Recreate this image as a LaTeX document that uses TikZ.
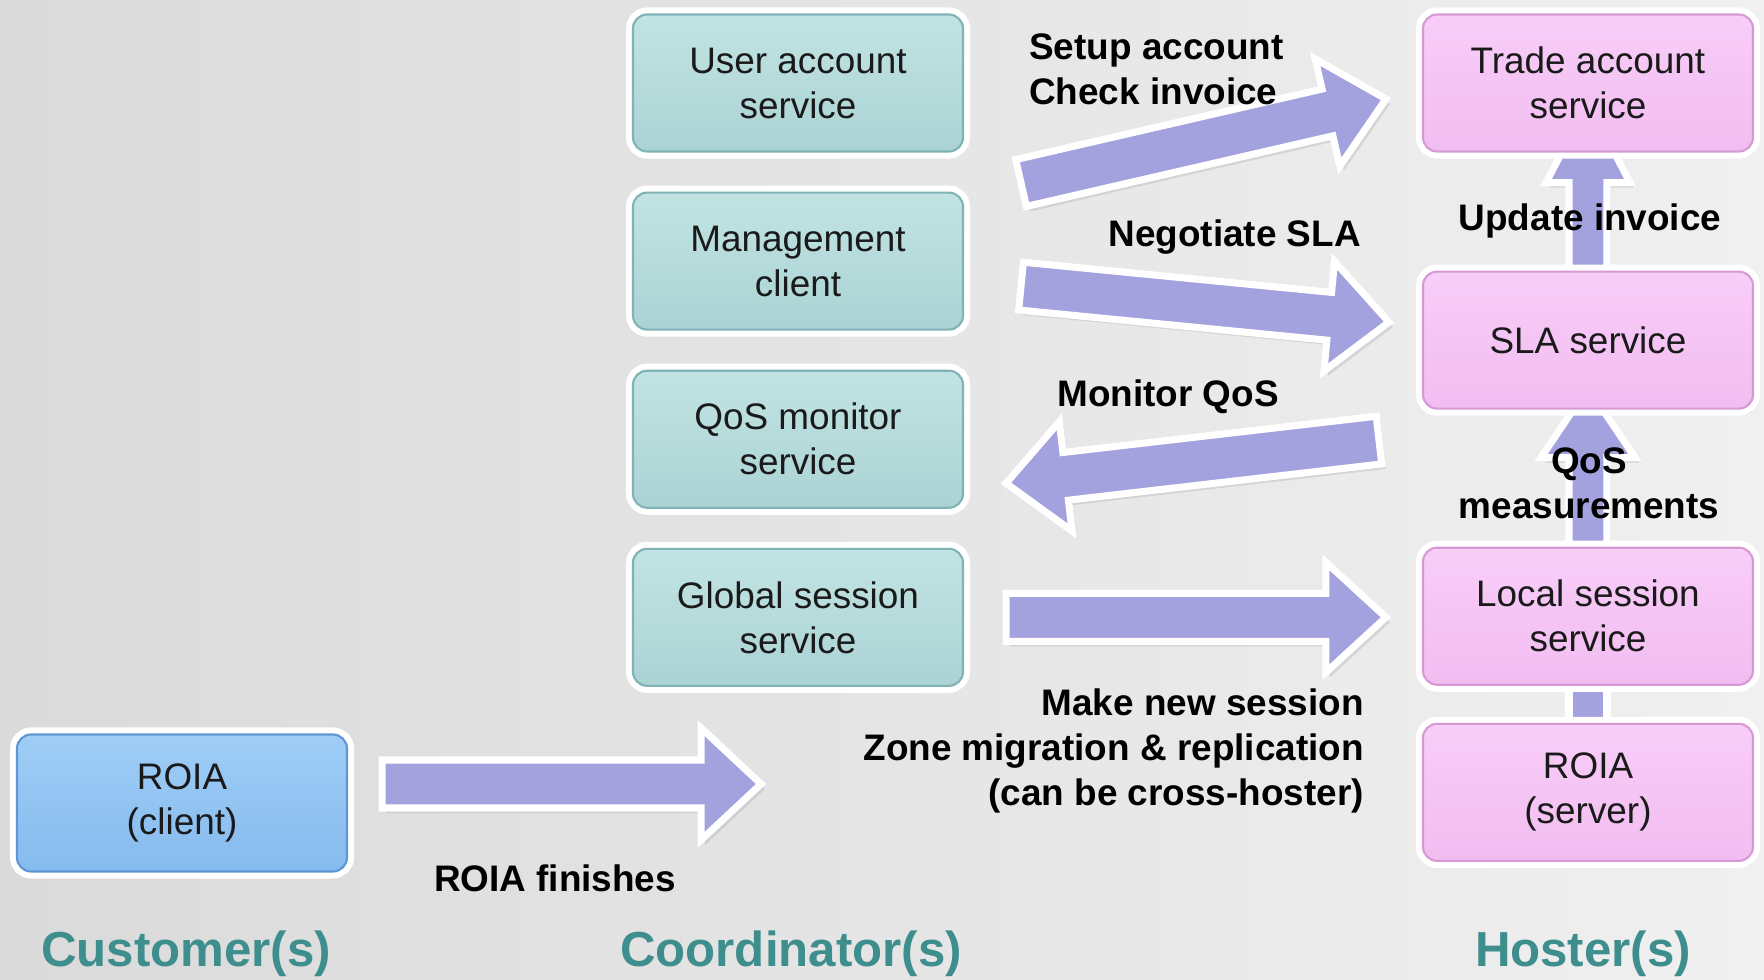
\documentclass[tikz,border=0pt]{standalone}
\usepackage{fontspec}
\setmainfont{Liberation Sans}
\usepackage{xcolor}
\usepackage{tikz}
\usetikzlibrary{calc,positioning,shadows,backgrounds}
\definecolor{coordtop}{HTML}{C2E3E3}
\definecolor{coordbot}{HTML}{ABD3D4}
\definecolor{coordedge}{HTML}{7FB3B5}
\definecolor{hosttop}{HTML}{F8CDF8}
\definecolor{hostbot}{HTML}{F2BDF1}
\definecolor{hostedge}{HTML}{D59AD4}
\definecolor{custtop}{HTML}{9FCDF6}
\definecolor{custbot}{HTML}{86BBEE}
\definecolor{custedge}{HTML}{5E97D2}
\definecolor{flowfill}{HTML}{A3A1DE}
\definecolor{roletext}{HTML}{3E8E8E}
\definecolor{bglight}{HTML}{F0F0F0}
\definecolor{bgdark}{HTML}{DADADA}
\definecolor{boxtext}{HTML}{1A1A1A}

\pgfdeclarelayer{bg}
\pgfsetlayers{bg,background,main}

\tikzset{
  box/.style={rectangle, rounded corners=4pt, line width=0.6pt,
    minimum width=33mm, minimum height=13.7mm, inner sep=1pt, align=center,
    text=boxtext, font=\fontsize{10.5}{12.8}\selectfont,
    drop shadow={opacity=0.25, shadow xshift=0.4mm, shadow yshift=-0.6mm},
    preaction={draw=white, line width=4pt}},
  coordbox/.style={box, top color=coordtop, bottom color=coordbot, draw=coordedge},
  hostbox/.style={box, top color=hosttop, bottom color=hostbot, draw=hostedge},
  custbox/.style={box, top color=custtop, bottom color=custbot, draw=custedge},
  flowarrow/.style={fill=flowfill, draw=white, line width=2pt, line join=miter,
    drop shadow={opacity=0.2, shadow xshift=0.4mm, shadow yshift=-0.5mm}},
  flowlabel/.style={font=\fontsize{10.5}{12.8}\selectfont\bfseries, text=black, inner sep=1pt},
  role/.style={font=\fontsize{14}{16}\selectfont\bfseries, text=roletext}
}

% fat arrow: #1 tail, #2 tip, #3 shaft half width, #4 head half width, #5 head length
\newcommand{\fatarrow}[5]{%
  \coordinate (fa-base) at ($(#2)!#5!(#1)$);
  \draw[flowarrow] ($(#1)!#3!90:(#2)$) -- ($(fa-base)!#3!90:(#2)$)
    -- ($(fa-base)!#4!90:(#2)$) -- (#2) -- ($(fa-base)!#4!-90:(#2)$)
    -- ($(fa-base)!#3!-90:(#2)$) -- ($(#1)!#3!-90:(#2)$) -- cycle;
}

\begin{document}
\begin{tikzpicture}[x=0.1mm, y=-0.1mm]
  % Background
  \useasboundingbox (0,0) rectangle (1764,980);
  \begin{pgfonlayer}{bg}
    \fill[left color=bgdark, right color=bglight] (0,0) rectangle (1764,980);
  \end{pgfonlayer}

  % Coordinator column
  \node[coordbox] (useracc) at (798,83) {User account\\service};
  \node[coordbox, below=3.9mm of useracc] (mgmt) {Management\\client};
  \node[coordbox, below=3.9mm of mgmt] (qosmon) {QoS monitor\\service};
  \node[coordbox, below=3.9mm of qosmon] (globalsess) {Global session\\service};

  % Hoster column
  \node[hostbox] (tradeacc) at (1588,83) {Trade account\\service};
  \node[hostbox, below=11.8mm of tradeacc] (sla) {SLA service};
  \node[hostbox, below=13.7mm of sla] (localsess) {Local session\\service};
  \node[hostbox, below=3.7mm of localsess] (roiaserver) {ROIA\\(server)};

  % Customer
  \node[custbox] (roiaclient) at (182,803) {ROIA\\(client)};

  % Arrow ends
  \coordinate (setup-s) at ([shift={(57,100)}]useracc.east);
  \coordinate (setup-e) at ([shift={(-36,16)}]tradeacc.west);
  \coordinate (nego-s) at ([shift={(57,25)}]mgmt.east);
  \coordinate (nego-e) at ([shift={(-33,-18)}]sla.west);
  \coordinate (mon-s) at ([shift={(-43,100)}]sla.west);
  \coordinate (mon-e) at ([shift={(42,44)}]qosmon.east);
  \coordinate (sess-s) at ([xshift=4.2mm]globalsess.east);
  \coordinate (sess-e) at ([xshift=-3.6mm]globalsess.east -| localsess.west);
  \coordinate (fin-s) at ([shift={(34,-19)}]roiaclient.east);
  \coordinate (fin-e) at ([shift={(413,-19)}]roiaclient.east);
  \coordinate (upd-s) at ([yshift=-2mm]sla.north);
  \coordinate (upd-e) at ([yshift=5mm]tradeacc.south);
  \coordinate (meas-s) at ([yshift=-2mm]localsess.north);
  \coordinate (meas-e) at ([yshift=2.2mm]sla.south);

  % Arrows
  \begin{scope}[on background layer]
    \fatarrow{setup-s}{setup-e}{2.4mm}{5.5mm}{6mm}
    \fatarrow{nego-s}{nego-e}{2.4mm}{5.5mm}{6mm}
    \fatarrow{mon-s}{mon-e}{2.4mm}{5.5mm}{6mm}
    \fatarrow{sess-s}{sess-e}{2.4mm}{5.5mm}{6mm}
    \fatarrow{fin-s}{fin-e}{2.4mm}{5.6mm}{6mm}
    \fatarrow{upd-s}{upd-e}{1.9mm}{4.2mm}{8mm}
    \fatarrow{meas-s}{meas-e}{1.9mm}{4.7mm}{7mm}
    \draw[flowarrow] ([xshift=-1.9mm, yshift=-1mm]roiaserver.north) rectangle ([xshift=1.9mm, yshift=1mm]localsess.south);
  \end{scope}

  % Arrow labels
  \node[flowlabel, anchor=west, align=left] (setuplbl) at ([shift={(61,-14)}]useracc.east) {Setup account\\Check invoice};
  \node[flowlabel, anchor=east] (negolbl) at ([shift={(-57,-103)}]sla.west) {Negotiate SLA};
  \node[flowlabel] (monlbl) at ([shift={(-254,57)}]sla.west) {Monitor QoS};
  \node[flowlabel] (updlbl) at ([shift={(2,-50)}]sla.north) {Update invoice};
  \node[flowlabel, align=center] (measlbl) at ([shift={(1,-63)}]localsess.north) {QoS\\measurements};
  \node[flowlabel, anchor=east, align=right] (sesslbl) at ([shift={(-54,135)}]localsess.west) {Make new session\\Zone migration \& replication\\(can be cross-hoster)};
  \node[flowlabel] (finlbl) at ([shift={(207,75)}]roiaclient.east) {ROIA finishes};

  % Roles
  \node[role] (customers) at (186,954) {Customer(s)};
  \node[role] (coordinators) at (791,954) {Coordinator(s)};
  \node[role] (hosters) at (1583,954) {Hoster(s)};
\end{tikzpicture}
\end{document}
